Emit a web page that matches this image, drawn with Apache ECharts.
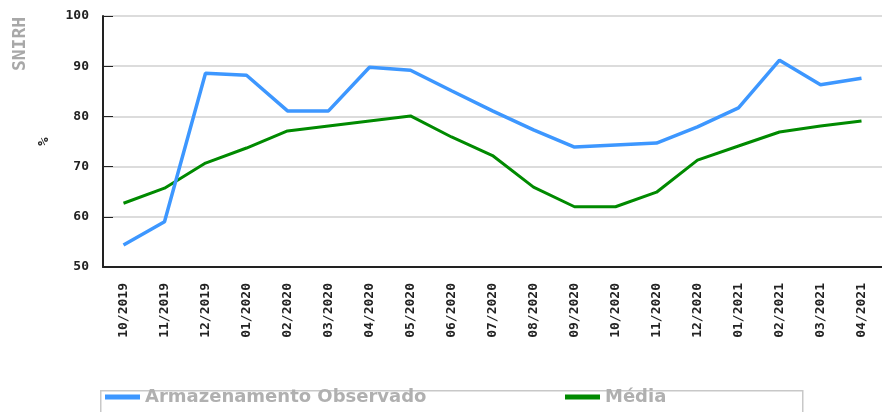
<!DOCTYPE html>
<html>
<head>
<meta charset="utf-8">
<script src="https://cdn.jsdelivr.net/npm/echarts@6/dist/echarts.min.js"></script>
<style>
  html, body { margin: 0; padding: 0; background: #fff; }
  #chart { width: 882px; height: 412px; }
</style>
</head>
<body>
<div id="chart"></div>
<script>
// Reservoir storage vs. average - SNIRH style line chart

const months = ['10/2019', '11/2019', '12/2019', '01/2020', '02/2020', '03/2020', '04/2020',
    '05/2020', '06/2020', '07/2020', '08/2020', '09/2020', '10/2020', '11/2020', '12/2020',
    '01/2021', '02/2021', '03/2021', '04/2021'];
const observado = [54.4, 59.0, 88.6, 88.2, 81.1, 81.1, 89.8, 89.2, 85.1, 81.1, 77.3, 73.9,
    74.3, 74.7, 77.9, 81.7, 91.2, 86.3, 87.6];
const media = [62.7, 65.7, 70.7, 73.7, 77.1, 78.1, 79.1, 80.1, 75.9, 72.2, 65.9, 62.0,
    62.0, 64.9, 71.3, 74.1, 76.9, 78.1, 79.1];
const yTicks = [50, 60, 70, 80, 90, 100];

const blue = '#3d97ff';
const green = '#008a00';
const axisColor = '#222';
const labelFont = 'DejaVu Sans Mono';
const legendGrey = '#b0b0b0';

function legendAt(left, name) {
    return {
        left: left, top: 388, padding: 0,
        itemWidth: 35, itemHeight: 5, itemGap: 0,
        icon: 'rect',
        data: [name],
        textStyle: { color: legendGrey, fontSize: 18, fontWeight: 'bold', fontFamily: 'DejaVu Sans' }
    };
}

const chart = echarts.init(document.getElementById('chart'), null, { renderer: 'canvas' });

chart.setOption({
    animation: false,
    grid: { left: 103, right: -8, top: 16, bottom: 145 },
    graphic: [
        {
            type: 'text', x: 20, y: 44, rotation: Math.PI / 2,
            style: {
                text: 'SNIRH', fill: '#a8a8a8', font: 'bold 18px "DejaVu Sans Mono"',
                align: 'center', verticalAlign: 'middle'
            }
        },
        {
            // legend frame
            type: 'rect', left: 100, top: 390, z: -1,
            shape: { width: 702, height: 30 },
            style: { fill: '#fff', stroke: '#c8c8c8', lineWidth: 1.5 }
        }
    ],
    legend: [
        legendAt(105, 'Armazenamento Observado'),
        legendAt(565, 'Média')
    ],
    xAxis: {
        type: 'category',
        data: months,
        boundaryGap: true,
        axisLine: { lineStyle: { color: axisColor, width: 2 } },
        axisTick: { alignWithLabel: true, inside: true, length: 8, lineStyle: { color: axisColor } },
        axisLabel: {
            rotate: 90, margin: 16, color: axisColor,
            fontFamily: labelFont, fontWeight: 'bold', fontSize: 13
        },
        splitLine: { show: false }
    },
    yAxis: {
        type: 'value',
        min: yTicks[0], max: yTicks[yTicks.length - 1], interval: 10,
        name: '%', nameLocation: 'middle', nameRotate: 90, nameGap: 52,
        nameTextStyle: { color: axisColor, fontFamily: labelFont, fontWeight: 'bold', fontSize: 14 },
        axisLine: { show: true, lineStyle: { color: axisColor, width: 2 } },
        axisTick: { show: true, inside: true, length: 10, lineStyle: { color: axisColor } },
        axisLabel: {
            margin: 14, color: axisColor,
            fontFamily: labelFont, fontWeight: 'bold', fontSize: 13
        },
        splitLine: { lineStyle: { color: '#dcdcdc', width: 2 } }
    },
    series: [
        {
            name: 'Armazenamento Observado', type: 'line',
            data: observado,
            symbol: 'none',
            lineStyle: { color: blue, width: 3.5 },
            itemStyle: { color: blue },
            z: 3
        },
        {
            name: 'Média', type: 'line',
            data: media,
            symbol: 'none',
            lineStyle: { color: green, width: 3 },
            itemStyle: { color: green },
            z: 2
        }
    ]
});
</script>
</body>
</html>
